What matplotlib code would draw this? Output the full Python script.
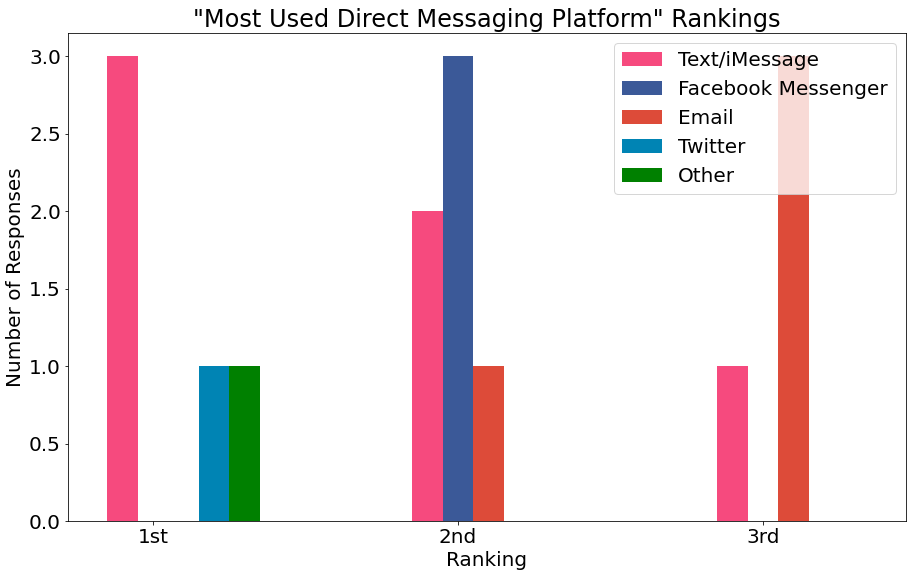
import matplotlib.pyplot as plt
import numpy as np

rankings = ["1st", "2nd", "3rd"]
platforms = ["Text/iMessage", "Facebook Messenger", "Email", "Twitter", "Other"]
text_imessage = [3, 2, 1]
facebook_messenger = [0, 3, 0]
email = [0, 1, 3]
twitter = [1, 0, 0]
other = [1, 0, 0]
colors = ["#F64A7E", "#3B5998", "#DD4B39", "#0084B4", "#008000"]

series = [text_imessage, facebook_messenger, email, twitter, other]

# rendered at 72 dpi like the original notebook output
fig = plt.figure(figsize=(916 / 72, 577 / 72), dpi=72)
ax = fig.add_axes([0.0742, 0.097, 0.915, 0.846])

x = np.arange(len(rankings))
w = 0.1
for j, (name, vals) in enumerate(zip(platforms, series)):
    ax.bar(x + (j - 1) * w, vals, w, color=colors[j], label=name)

ax.set_xticks(x)
ax.set_xticklabels(rankings, fontsize=20)
ax.tick_params(axis="y", labelsize=20)
ax.set_xlim(-0.279, 2.469)
ax.set_ylim(0, 3.15)
ax.set_yticks(np.arange(0, 3.01, 0.5))
ax.set_xlabel("Ranking", fontsize=20)
ax.set_ylabel("Number of Responses", fontsize=20)
ax.set_title('"Most Used Direct Messaging Platform" Rankings', fontsize=24)
ax.legend(loc="upper right", fontsize=20)

fig.savefig("out.png", dpi=72)
